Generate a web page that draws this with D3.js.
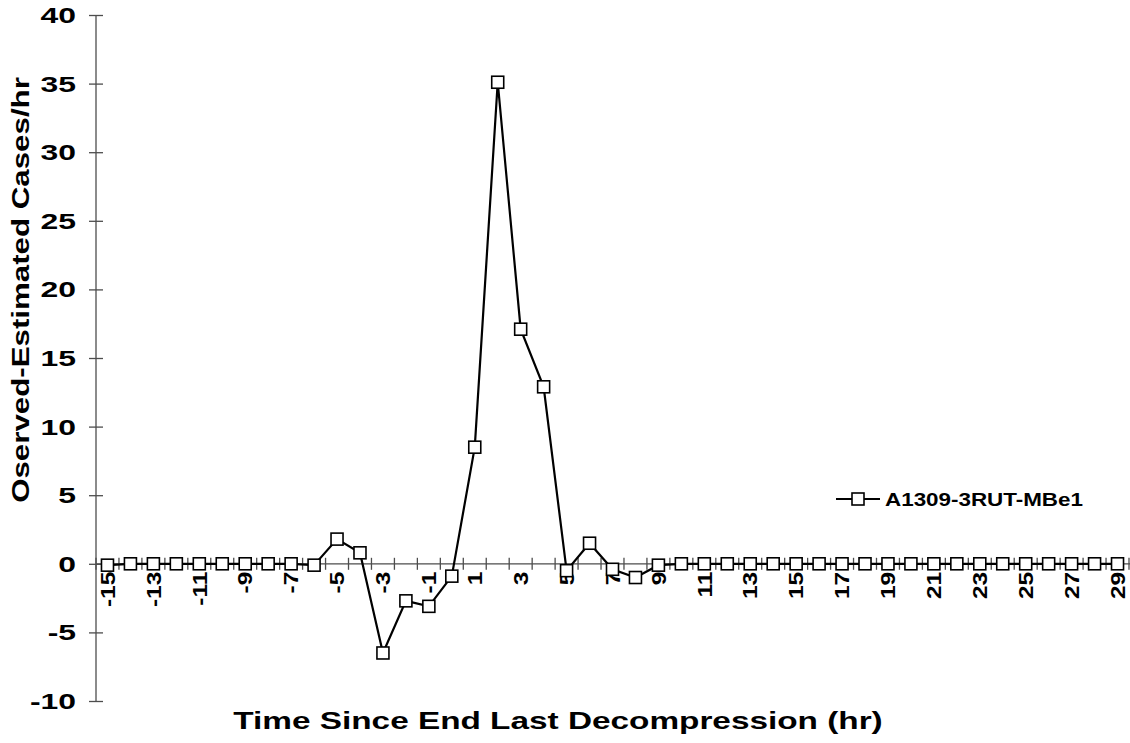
<!DOCTYPE html>
<html>
<head>
<meta charset="utf-8">
<script src="https://cdn.jsdelivr.net/npm/d3@7"></script>
<style>
  html, body { margin: 0; padding: 0; background: #fff; }
  svg { display: block; }
  text { font-family: "Liberation Sans", Arial, sans-serif; font-weight: bold; fill: #000; }
</style>
</head>
<body>
<svg id="chart" width="1130" height="743"></svg>
<script>
// Hours since end of the last decompression
const hours = [-15, -14, -13, -12, -11, -10, -9, -8, -7, -6, -5, -4, -3, -2, -1, 0,
  1, 2, 3, 4, 5, 6, 7, 8, 9, 10, 11, 12, 13, 14, 15, 16, 17, 18, 19, 20,
  21, 22, 23, 24, 25, 26, 27, 28, 29];
// Observed minus estimated cases per hour
const residuals = [-0.1, 0, 0, 0, 0, 0, 0, 0, 0, -0.1, 1.8, 0.8, -6.5, -2.7, -3.1, -0.9,
  8.5, 35.1, 17.1, 12.9, -0.5, 1.5, -0.4, -1.0, -0.1, 0, 0, 0, 0, 0, 0, 0, 0, 0, 0, 0,
  0, 0, 0, 0, 0, 0, 0, 0, 0];
const seriesName = "A1309-3RUT-MBe1";
const yTicks = [-10, -5, 0, 5, 10, 15, 20, 25, 30, 35, 40];
const xLabelHours = hours.filter(h => Math.abs(h) % 2 === 1);

const svg = d3.select("#chart");

// Text styles: font size and horizontal widening along the baseline
const yTickStyle = { size: 22, stretch: 1.45 };
const xTickStyle = { size: 20, stretch: 1.22 };
const xTitleStyle = { size: 23, stretch: 1.45 };
const yTitleStyle = { size: 23, stretch: 1.36 };
const legendStyle = { size: 19, stretch: 1.18 };

const x = d3.scaleBand().domain(hours).range([96, 1129]).padding(0);
const cx = h => x(h) + x.bandwidth() / 2;
const y = d3.scaleLinear().domain([-10, 40]).range([701, 15]);

const axisColor = "#4d4d4d";

// Y axis with ticks crossing the line
const yAxis = svg.append("g").attr("transform", "translate(96,0)")
  .call(d3.axisLeft(y).tickValues(yTicks).tickSize(7).tickFormat(""));
yAxis.select(".domain").attr("stroke", axisColor).attr("stroke-width", 1.3).attr("d", `M0,${y(-10)}V${y(40)}`);
yAxis.selectAll(".tick line").attr("stroke", axisColor).attr("stroke-width", 1.3).attr("x1", 7).attr("x2", -7);

svg.append("g").selectAll("text").data(yTicks).join("text")
  .attr("transform", d => `translate(76,${y(d)}) scale(${yTickStyle.stretch},1)`)
  .attr("text-anchor", "end").attr("dy", "0.36em")
  .style("font-size", yTickStyle.size + "px")
  .text(d => d);

// X axis at zero, ticks on category boundaries
const x0 = y(0);
svg.append("line").attr("x1", 96).attr("x2", 1130).attr("y1", x0).attr("y2", x0)
  .attr("stroke", axisColor).attr("stroke-width", 1.3);
const boundaries = hours.map(h => x(h)).concat([x(hours[hours.length - 1]) + x.bandwidth()]);
svg.append("g").selectAll("line").data(boundaries).join("line")
  .attr("x1", d => d).attr("x2", d => d)
  .attr("y1", x0 - 6).attr("y2", x0 + 6)
  .attr("stroke", axisColor).attr("stroke-width", 1.3);

svg.append("g").selectAll("text").data(xLabelHours).join("text")
  .attr("transform", h => `translate(${cx(h)},${x0 + 8}) rotate(-90) scale(${xTickStyle.stretch},1)`)
  .attr("text-anchor", "end").attr("dy", "0.36em")
  .style("font-size", xTickStyle.size + "px")
  .text(h => h);

// Series line and square markers
const pts = hours.map((h, i) => ({ h, v: residuals[i] }));
svg.append("path").datum(pts)
  .attr("fill", "none").attr("stroke", "#000").attr("stroke-width", 2.2)
  .attr("d", d3.line().x(d => cx(d.h)).y(d => y(d.v)));

const M = 12;
svg.append("g").selectAll("rect").data(pts).join("rect")
  .attr("x", d => cx(d.h) - M / 2).attr("y", d => y(d.v) - M / 2)
  .attr("width", M).attr("height", M)
  .attr("fill", "#fff").attr("stroke", "#000").attr("stroke-width", 1.6);

// Axis titles
svg.append("text")
  .attr("transform", `translate(558,729) scale(${xTitleStyle.stretch},1)`)
  .attr("text-anchor", "middle").style("font-size", xTitleStyle.size + "px")
  .text("Time Since End Last Decompression (hr)");

svg.append("text")
  .attr("transform", `translate(29,290) rotate(-90) scale(${yTitleStyle.stretch},1)`)
  .attr("text-anchor", "middle").style("font-size", yTitleStyle.size + "px")
  .text("Oserved-Estimated Cases/hr");

// Legend
const lg = svg.append("g").attr("transform", "translate(836,499)");
lg.append("line").attr("x1", 0).attr("x2", 44).attr("y1", 0).attr("y2", 0)
  .attr("stroke", "#000").attr("stroke-width", 2.2);
lg.append("rect").attr("x", 22 - M / 2).attr("y", -M / 2).attr("width", M).attr("height", M)
  .attr("fill", "#fff").attr("stroke", "#000").attr("stroke-width", 1.6);
lg.append("text").attr("transform", `translate(49,0) scale(${legendStyle.stretch},1)`)
  .attr("dy", "0.36em").style("font-size", legendStyle.size + "px")
  .text(seriesName);
</script>
</body>
</html>
